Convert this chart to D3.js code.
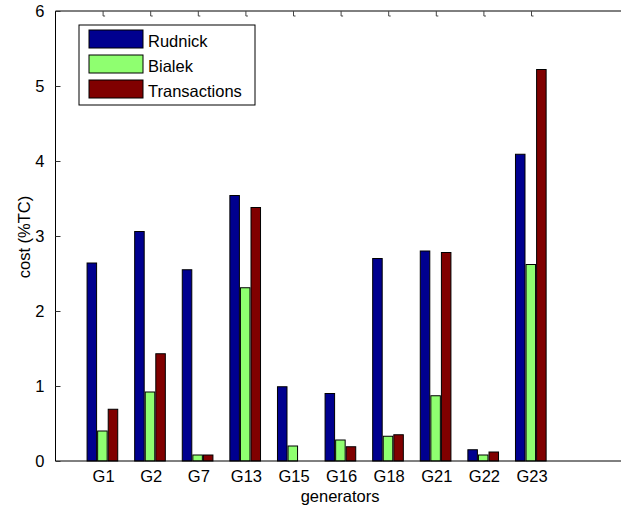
<!DOCTYPE html>
<html>
<head>
<meta charset="utf-8">
<script src="https://cdn.jsdelivr.net/npm/d3@7"></script>
<style>
  html, body { margin: 0; padding: 0; background: #fff; }
  svg { display: block; font-family: Arial, "Liberation Sans", sans-serif; }
</style>
</head>
<body>
<svg id="chart" width="621" height="510"></svg>
<script>
// Generator cost shares (% of total cost) under three allocation methods
const categories = ["G1", "G2", "G7", "G13", "G15", "G16", "G18", "G21", "G22", "G23"];
const rudnick      = [2.64, 3.06, 2.55, 3.54, 0.99, 0.90, 2.70, 2.80, 0.15, 4.09];
const bialek       = [0.40, 0.92, 0.08, 2.31, 0.20, 0.28, 0.33, 0.87, 0.08, 2.62];
const transactions = [0.69, 1.43, 0.08, 3.38, 0.00, 0.19, 0.35, 2.78, 0.12, 5.22];
const seriesNames  = ["Rudnick", "Bialek", "Transactions"];
const seriesColors = ["#00008f", "#8fff70", "#800000"];
const yTicks = [0, 1, 2, 3, 4, 5, 6];

const series = [rudnick, bialek, transactions];

const svg = d3.select("#chart");
const plotLeft = 55.5, plotTop = 11, plotBottom = 461;

// Category positions 1..10 on a 0..12 axis (right edge runs past the canvas)
const x = d3.scaleLinear().domain([0, 12]).range([plotLeft, 626.7]);
const y = d3.scaleLinear().domain([0, 6]).range([plotBottom, plotTop]);

const slot = 0.222;          // group offset per series, in category units
const barW = x(0.2) - x(0);  // bar width in pixels

// Bars
series.forEach((vals, s) => {
  svg.append("g")
    .selectAll("rect")
    .data(vals)
    .join("rect")
    .attr("x", (d, i) => x(i + 1 + (s - 1) * slot) - barW / 2 - 0.7)
    .attr("y", d => y(d))
    .attr("width", barW)
    .attr("height", d => y(0) - y(d))
    .attr("fill", seriesColors[s])
    .attr("stroke", "#000")
    .attr("stroke-width", d => d > 0 ? 1 : 0);
});

// Axis frame: left, top and bottom lines
const frame = svg.append("g").attr("stroke", "#000").attr("stroke-width", 1).attr("fill", "none");
frame.append("line").attr("x1", plotLeft).attr("x2", 621).attr("y1", plotTop).attr("y2", plotTop);
frame.append("line").attr("x1", plotLeft).attr("x2", 621).attr("y1", plotBottom).attr("y2", plotBottom);
frame.append("line").attr("x1", plotLeft).attr("x2", plotLeft).attr("y1", plotTop).attr("y2", plotBottom);

// Y axis ticks and labels
const yAxis = d3.axisLeft(y).tickValues(yTicks).tickSize(-5).tickPadding(11).tickFormat(d3.format("d"));
const yg = svg.append("g").attr("transform", `translate(${plotLeft},0)`).call(yAxis);
yg.select(".domain").remove();
yg.selectAll(".tick line").attr("stroke", "#333");
yg.selectAll(".tick text").attr("font-size", "16.5px").attr("fill", "#000")
  .attr("font-family", "Arial, 'Liberation Sans', sans-serif");

// X axis category labels
const xAxis = d3.axisBottom(x).tickValues(d3.range(1, categories.length + 1))
  .tickSize(0).tickPadding(9).tickFormat(d => categories[d - 1]);
const xg = svg.append("g").attr("transform", `translate(0,${plotBottom})`).call(xAxis);
xg.select(".domain").remove();
xg.selectAll(".tick text").attr("font-size", "16.5px").attr("fill", "#000")
  .attr("font-family", "Arial, 'Liberation Sans', sans-serif");

// Small tick marks along the top edge at each category
svg.append("g")
  .selectAll("path")
  .data(d3.range(1, categories.length + 1))
  .join("path")
  .attr("d", d => `M${x(d)},${plotTop} V${plotTop + 5} H${x(d) + 2}`)
  .attr("fill", "none")
  .attr("stroke", "#444")
  .attr("stroke-width", 1);

// Axis titles
svg.append("text")
  .attr("x", (plotLeft + 626.7) / 2 - 1).attr("y", 502)
  .attr("text-anchor", "middle").attr("font-size", "16.5px")
  .text("generators");
svg.append("text")
  .attr("transform", "translate(30,237) rotate(-90)")
  .attr("text-anchor", "middle").attr("font-size", "16.5px")
  .text("cost (%TC)");

// Legend
const lg = svg.append("g");
lg.append("rect").attr("x", 79).attr("y", 25).attr("width", 176).attr("height", 80)
  .attr("fill", "#fff").attr("stroke", "#000").attr("stroke-width", 1);
seriesNames.forEach((name, i) => {
  lg.append("rect").attr("x", 89).attr("y", 30 + i * 25).attr("width", 54).attr("height", 18)
    .attr("fill", seriesColors[i]).attr("stroke", "#000").attr("stroke-width", 1);
  lg.append("text").attr("x", 148).attr("y", 47 + i * 25)
    .attr("font-size", "16.5px").text(name);
});
</script>
</body>
</html>
